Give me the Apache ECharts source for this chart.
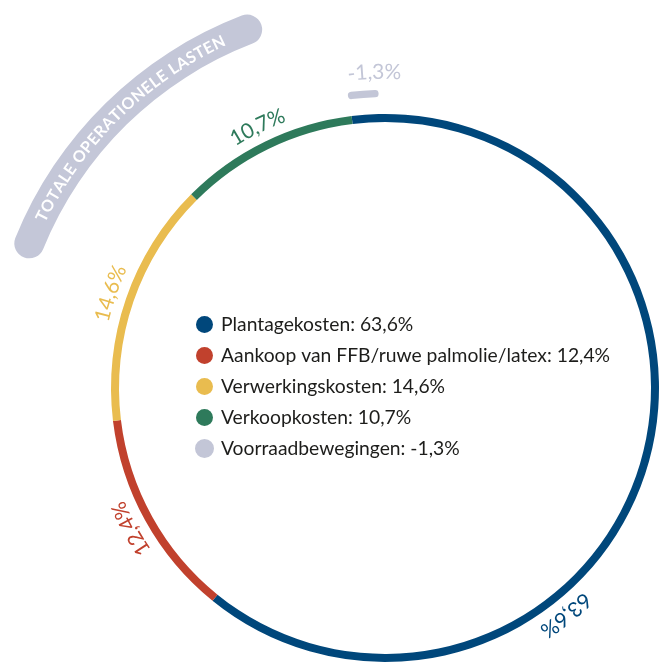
<!DOCTYPE html>
<html>
<head>
<meta charset="utf-8">
<script src="https://cdn.jsdelivr.net/npm/echarts@6/dist/echarts.min.js"></script>
<style>
  html, body { margin: 0; padding: 0; background: #fff; }
  #chart { width: 659px; height: 666px; }
</style>
</head>
<body>
<div id="chart"></div>
<script>
// data
var categories = ['Plantagekosten', 'Aankoop van FFB/ruwe palmolie/latex', 'Verwerkingskosten', 'Verkoopkosten'];
var values = [63.6, 12.4, 14.6, 10.7];
var stockName = 'Voorraadbewegingen';
var stockValue = -1.3;
var titleText = 'TOTALE OPERATIONELE LASTEN';

var colors = ['#00477b', '#c1412d', '#e9bc4f', '#2e7a5b'];
var stockColor = '#c3c6d7';
var textColor = '#1d1d1b';
var FONT = 'Lato, "Noto Sans", sans-serif';

// layout (pixels, angles in degrees clockwise from 12 o'clock)
var CX = 385, CY = 388;
var ringStart = -7;
var labelR = 291;
var labelFrac = [0.657, 0.5, 0.5, 0.5];
var stockStart = -6.55, stockLabelR = 316, stockLabelFrac = 1.0;
var bandStart = 289.9, bandSpan = 51.3;

function fmt(v) { return v.toFixed(1).replace('.', ',') + '%'; }

var total = values.reduce(function (a, b) { return a + b; }, 0);

var ctx = document.createElement('canvas').getContext('2d');
function curvedText(str, r, midDeg, size, weight, color, spacing) {
  var font = weight + ' ' + size + 'px ' + FONT;
  ctx.font = font;
  spacing = spacing || 0;
  var widths = str.split('').map(function (ch) { return ctx.measureText(ch).width + spacing; });
  var len = widths.reduce(function (a, b) { return a + b; }, 0) - spacing;
  var a0 = midDeg * Math.PI / 180 - (len / 2) / r;
  var s = 0, out = [];
  str.split('').forEach(function (ch, i) {
    var ang = a0 + (s + (widths[i] - spacing) / 2) / r;
    s += widths[i];
    out.push({
      type: 'text', z: 100, silent: true,
      x: CX + r * Math.sin(ang), y: CY - r * Math.cos(ang),
      rotation: -ang,
      style: { text: ch, font: font, fill: color, align: 'center', verticalAlign: 'middle' }
    });
  });
  return out;
}

var elements = [];
var cum = 0;
values.forEach(function (v, i) {
  var ang = ringStart + (cum + v * labelFrac[i]) / total * 360;
  cum += v;
  elements = elements.concat(curvedText(fmt(v), labelR, ang, 21, 'normal', colors[i]));
});
var stockSpan = Math.abs(stockValue) / total * 360;
elements = elements.concat(curvedText(fmt(stockValue), stockLabelR, stockStart + stockSpan * stockLabelFrac, 21, 'normal', stockColor));
elements = elements.concat(curvedText(titleText, 383, bandStart + bandSpan / 2, 16, 'bold', '#ffffff', 0.6));

var ringData = categories.map(function (c, i) {
  return { name: c, value: values[i], itemStyle: { color: colors[i] } };
});
var valueByName = {};
categories.forEach(function (c, i) { valueByName[c] = values[i]; });
valueByName[stockName] = stockValue;

var blank = { color: 'rgba(0,0,0,0)', borderWidth: 0 };

var option = {
  animation: false,
  legend: {
    data: categories.concat([stockName]),
    orient: 'vertical',
    left: 190, top: 310,
    itemWidth: 17, itemHeight: 17, itemGap: 12,
    icon: 'circle',
    selectedMode: false,
    formatter: function (name) { return name + ': ' + fmt(valueByName[name]); },
    textStyle: { fontFamily: FONT, fontSize: 19.3, lineHeight: 17, color: textColor, padding: [0, 0, 0, 3] }
  },
  series: [
    {
      type: 'pie', name: 'lasten', center: [CX, CY], radius: [266, 274],
      startAngle: 90 - ringStart, clockwise: true, silent: true,
      label: { show: false }, labelLine: { show: false },
      emphasis: { disabled: true },
      data: ringData
    },
    {
      // thin sector stroked with round joins -> round-capped arc
      type: 'pie', name: 'voorraad', center: [CX, CY], radius: [294.3, 294.7],
      startAngle: 90 - stockStart, clockwise: true, silent: true,
      label: { show: false }, labelLine: { show: false },
      emphasis: { disabled: true },
      data: [
        { name: stockName, value: Math.abs(stockValue),
          itemStyle: { color: stockColor, borderColor: stockColor, borderWidth: 7, borderJoin: 'round' } },
        { name: 'rest', value: total - Math.abs(stockValue), itemStyle: blank }
      ]
    },
    {
      type: 'pie', name: 'band', center: [CX, CY], radius: [369, 399],
      startAngle: 90 - bandStart, clockwise: true, silent: true,
      label: { show: false }, labelLine: { show: false },
      emphasis: { disabled: true },
      itemStyle: { borderRadius: 15 },
      data: [
        { name: 'band', value: bandSpan, itemStyle: { color: '#c4c7d8' } },
        { name: 'gap', value: 360 - bandSpan, itemStyle: blank }
      ]
    }
  ],
  graphic: { elements: elements }
};

var myChart = echarts.init(document.getElementById('chart'));
myChart.setOption(option);
</script>
</body>
</html>
